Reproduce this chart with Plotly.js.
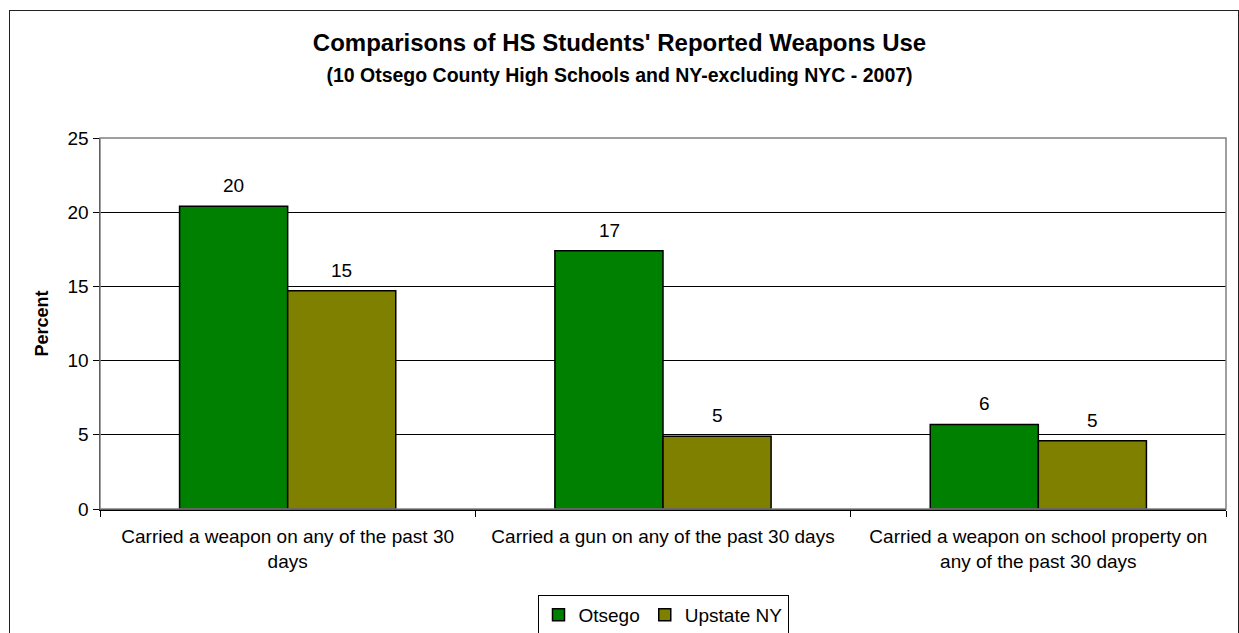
<!DOCTYPE html>
<html>
<head>
<meta charset="utf-8">
<script src="https://cdn.plot.ly/plotly-3.0.1.min.js"></script>
<style>
body{margin:0;padding:0;background:#fff;}
#wrap{position:relative;width:1239px;height:633px;overflow:hidden;}
#chart{position:absolute;left:0;top:0;width:1239px;height:633px;}
#frame{position:absolute;left:9px;top:10px;width:1228px;height:640px;border:1.5px solid #222;pointer-events:none;}
</style>
</head>
<body>
<div id="wrap"><div id="chart"></div><div id="frame"></div></div>
<script>
const categories = [
  "Carried a weapon on any of the past 30<br>days",
  "Carried a gun on any of the past 30 days",
  "Carried a weapon on school property on<br>any of the past 30 days"
];
const otsego = [20.4, 17.4, 5.7];
const upstate = [14.7, 4.9, 4.6];
const seriesNames = ["Otsego", "Upstate NY"];
const yTicks = [0, 5, 10, 15, 20, 25];

const FONT = "Liberation Sans, Arial, Helvetica, sans-serif";
const colors = ["#008000", "#808000"];
const seriesVals = [otsego, upstate];

const traces = seriesVals.map((vals, i) => ({
  type: "bar",
  x: categories,
  y: vals,
  name: seriesNames[i],
  marker: {color: colors[i], line: {color: "#000", width: 1.5}},
  hoverinfo: "skip"
}));

// value labels placed above each bar (offset to left/right bar of the group)
const barShift = 54;
const annotations = [];
seriesVals.forEach((vals, i) => {
  vals.forEach((v, j) => {
    annotations.push({
      x: categories[j], y: v, xref: "x", yref: "y",
      text: String(Math.round(v)),
      showarrow: false,
      xshift: i === 0 ? -barShift : barShift,
      yanchor: "bottom", yshift: 8,
      font: {family: FONT, size: 19, color: "#000"}
    });
  });
});

const layout = {
  width: 1239, height: 633,
  margin: {l: 100, r: 13, t: 138, b: 124},
  paper_bgcolor: "#fff", plot_bgcolor: "#fff",
  font: {family: FONT, size: 19, color: "#000"},
  title: {
    text: "<b>Comparisons of HS Students' Reported Weapons Use</b><br><b><span style='font-size:19.5px'>(10 Otsego County High Schools and NY-excluding NYC - 2007)</span></b>",
    x: 0.5, xanchor: "center", xref: "container",
    y: 0.9195, yanchor: "top", yref: "container",
    font: {family: FONT, size: 24, color: "#000"}
  },
  barmode: "group",
  bargap: 0.424,
  bargroupgap: 0,
  xaxis: {
    type: "category",
    tickson: "boundaries",
    ticks: "outside", ticklen: 6, tickcolor: "#000",
    ticklabelstandoff: 10,
    showline: true, linecolor: "#000", linewidth: 1.5,
    showgrid: false,
    tickfont: {family: FONT, size: 19, color: "#000"},
    automargin: false
  },
  yaxis: {
    range: [0, 25],
    tickvals: yTicks,
    ticks: "outside", ticklen: 6, tickcolor: "#000",
    showline: true, linecolor: "#000", linewidth: 1.5,
    showgrid: true, gridcolor: "#000", gridwidth: 1,
    zeroline: false,
    tickfont: {family: FONT, size: 19, color: "#000"},
    title: {text: "<b>Percent</b>", font: {family: FONT, size: 18, color: "#000"}, standoff: 14},
    automargin: false
  },
  shapes: [
    {type: "rect", xref: "paper", yref: "paper", x0: 0, x1: 1, y0: 0, y1: 1, line: {color: "#808080", width: 1.5}, layer: "above"}
  ],
  annotations: annotations,
  legend: {
    orientation: "h",
    x: 0.5, xanchor: "center", xref: "paper",
    y: 0.06, yanchor: "top", yref: "container",
    bordercolor: "#000", borderwidth: 1,
    font: {family: FONT, size: 19, color: "#000"},
    itemwidth: 30,
    tracegroupgap: 0
  },
  showlegend: true
};
Plotly.newPlot("chart", traces, layout, {displayModeBar: false, staticPlot: true});
</script>
</body>
</html>
